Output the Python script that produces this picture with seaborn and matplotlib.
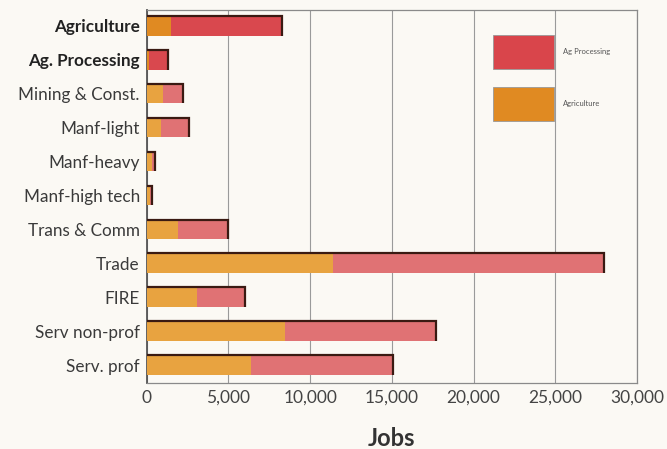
import matplotlib
matplotlib.use("Agg")
import matplotlib.pyplot as plt
import matplotlib.patches as mpatches
import seaborn as sns
import pandas as pd

sectors = ["Agriculture", "Ag. Processing", "Mining & Const.", "Manf-light", "Manf-heavy",
           "Manf-high tech", "Trans & Comm", "Trade", "FIRE", "Serv non-prof", "Serv. prof"]
agriculture = [1500, 150, 1000, 900, 300, 200, 1900, 11400, 3100, 8450, 6350]
ag_processing = [6800, 1150, 1200, 1700, 200, 150, 3100, 16600, 2900, 9250, 8750]
xticks = [0, 5000, 10000, 15000, 20000, 25000, 30000]
xtick_labels = ["0", "5,000", "10,000", "15,000", "20,000", "25,000", "30,000"]

df = pd.DataFrame({"sector": sectors, "agriculture": agriculture, "ag_processing": ag_processing})
df["total"] = df["agriculture"] + df["ag_processing"]

sns.set_style("white")
plt.rcParams["font.family"] = ["Lato", "DejaVu Sans"]

bg = "#fbf9f4"
red_sat = "#d9484e"
orange_sat = "#e08a22"
red_light = "#e07274"
orange_light = "#e8a340"
red_leg = "#d9454b"
orange_leg = "#e08a22"
edge_dark = "#3a1a12"

highlight = {"Agriculture", "Ag. Processing"}
red_pal = {s: (red_sat if s in highlight else red_light) for s in sectors}
orange_pal = {s: (orange_sat if s in highlight else orange_light) for s in sectors}

fig = plt.figure(figsize=(6.67, 4.49), dpi=100, facecolor=bg)
ax = fig.add_axes([0.220, 0.147, 0.735, 0.831])
ax.set_facecolor(bg)

sns.barplot(data=df, y="sector", x="total", hue="sector", palette=red_pal, legend=False,
            orient="h", width=0.58, saturation=1, ax=ax, linewidth=0, zorder=3)
n_red = len(ax.patches)
sns.barplot(data=df, y="sector", x="agriculture", hue="sector", palette=orange_pal, legend=False,
            orient="h", width=0.58, saturation=1, ax=ax, linewidth=0, zorder=4)

# dark top and right edges on each total bar
for p in ax.patches[:n_red]:
    x0, y0, w, h = p.get_x(), p.get_y(), p.get_width(), p.get_height()
    ax.plot([x0, x0 + w, x0 + w], [y0, y0, y0 + h], color=edge_dark, lw=1.6,
            zorder=5, solid_joinstyle="miter", solid_capstyle="butt")

ax.set_xlim(0, 30000)
ax.set_ylim(10.53, -0.47)
ax.set_xticks(xticks)
ax.set_xticklabels(xtick_labels, fontsize=12.5, color="#444444")
ax.xaxis.grid(True, color="#9a9a9a", lw=0.8, zorder=0)
ax.set_axisbelow(True)
ax.tick_params(axis="both", length=0, pad=5)
ax.set_ylabel("")
ax.set_xlabel("Jobs", fontsize=17, fontweight="bold", color="#333333", labelpad=15)

for lbl in ax.get_yticklabels():
    lbl.set_fontsize(12.3)
    lbl.set_color("#3a3a3a")
    if lbl.get_text() in highlight:
        lbl.set_fontweight("bold")
        lbl.set_color("#222222")

for s in ax.spines.values():
    s.set_color("#8a8a8a")
    s.set_linewidth(0.9)
ax.spines["left"].set_color("#555555")
ax.spines["left"].set_linewidth(1.3)

handles = [mpatches.Patch(facecolor=red_leg, edgecolor="#999999", lw=0.6, label="Ag Processing"),
           mpatches.Patch(facecolor=orange_leg, edgecolor="#999999", lw=0.6, label="Agriculture")]
leg = ax.legend(handles=handles, loc="upper left", bbox_to_anchor=(0.70, 0.94), frameon=False,
                fontsize=5.5, handlelength=8, handleheight=6.4, labelspacing=2.4,
                handletextpad=1.2, borderaxespad=0)
for t in leg.get_texts():
    t.set_color("#555555")

fig.savefig("out.png", dpi=100, facecolor=bg)
